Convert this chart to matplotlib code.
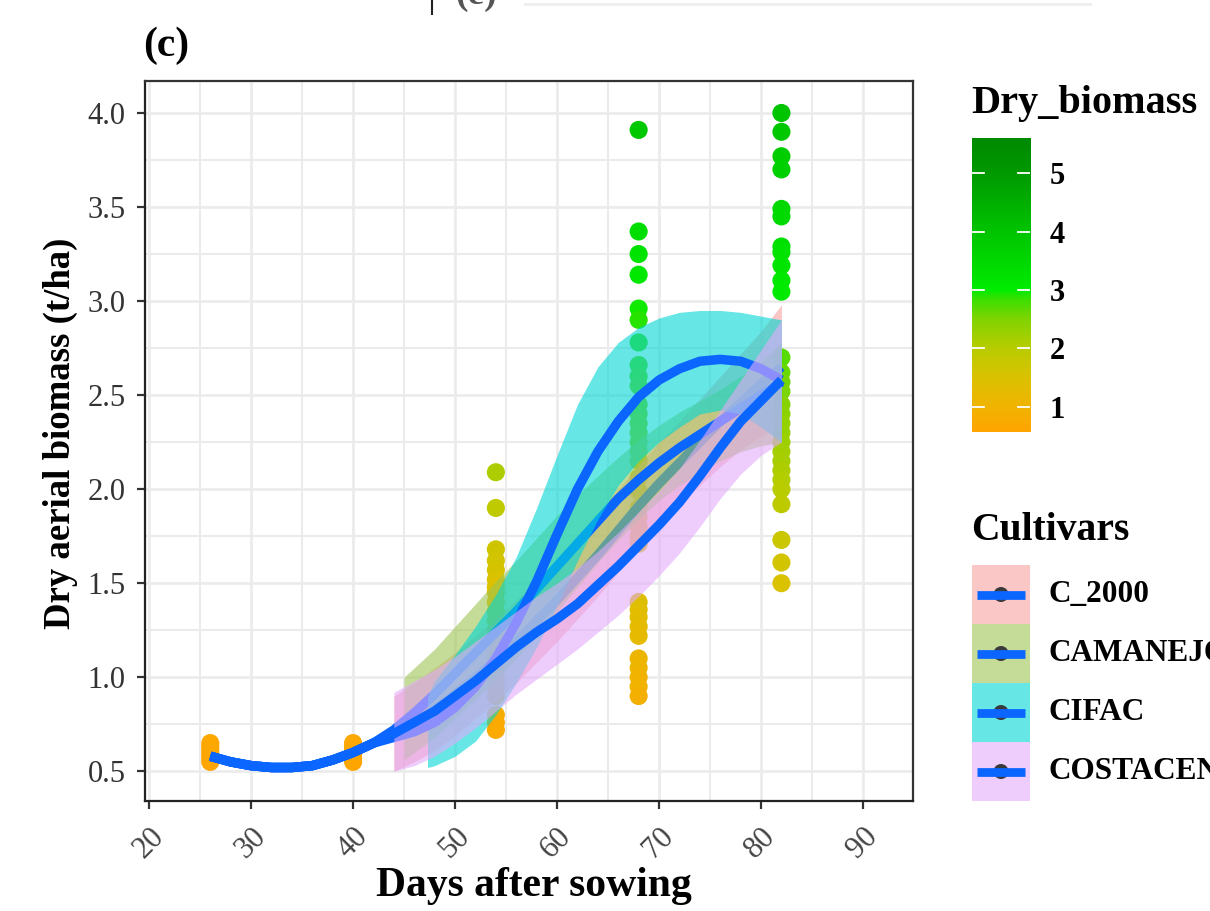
import numpy as np
import matplotlib
matplotlib.use("Agg")
import matplotlib.pyplot as plt
from matplotlib.colors import LinearSegmentedColormap, Normalize
from matplotlib.patches import Rectangle, Circle
from matplotlib.lines import Line2D

plt.rcParams['font.family'] = ['Liberation Serif', 'DejaVu Serif']

# ---------------- data ----------------
sample_days = [26, 40, 54, 68, 82]
biomass_day26 = [0.55, 0.57, 0.59, 0.61, 0.63, 0.65]
biomass_day40 = [0.55, 0.57, 0.59, 0.61, 0.63, 0.65]
biomass_day54 = [2.09, 1.90, 1.68, 1.62, 1.57, 1.52, 1.48, 1.45, 1.40, 1.35, 1.30,
                 1.25, 1.20, 1.15, 1.10, 1.05, 1.00, 0.95, 0.90, 0.80, 0.76, 0.72]
biomass_day68 = [3.91, 3.37, 3.25, 3.14, 2.96, 2.90, 2.78, 2.66, 2.60, 2.55, 2.45,
                 2.40, 2.35, 2.30, 2.25, 2.20, 2.15, 2.06, 1.99, 1.90, 1.85, 1.80,
                 1.75, 1.71, 1.40, 1.36, 1.32, 1.27, 1.22, 1.10, 1.05, 1.00, 0.95, 0.90]
biomass_day82 = [4.00, 3.90, 3.77, 3.70, 3.49, 3.45, 3.29, 3.26, 3.19, 3.11, 3.05,
                 2.70, 2.62, 2.57, 2.52, 2.45, 2.40, 2.35, 2.30, 2.25, 2.20, 2.15,
                 2.10, 2.05, 2.00, 1.92, 1.73, 1.61, 1.50]

cultivars = ['C_2000', 'CAMANEJO', 'CIFAC', 'COSTACEN']

fit_days = list(range(26, 84, 2))
fit_c2000 = [0.58, 0.55, 0.53, 0.52, 0.52, 0.53, 0.56, 0.60, 0.65,
             0.70, 0.76, 0.83, 0.91, 1.00, 1.09, 1.19, 1.30, 1.41, 1.53,
             1.65, 1.78, 1.91, 2.03, 2.14, 2.25, 2.36, 2.46, 2.56, 2.65]
fit_camanejo = [0.58, 0.55, 0.53, 0.52, 0.52, 0.53, 0.56, 0.60, 0.65,
                0.72, 0.81, 0.91, 1.02, 1.13, 1.24, 1.35, 1.47, 1.59, 1.71,
                1.83, 1.95, 2.05, 2.14, 2.22, 2.29, 2.36, 2.43, 2.50, 2.57]
fit_cifac = [0.58, 0.55, 0.53, 0.52, 0.52, 0.53, 0.56, 0.60, 0.65,
             0.68, 0.71, 0.76, 0.84, 0.95, 1.10, 1.29, 1.51, 1.76, 2.00,
             2.20, 2.36, 2.49, 2.58, 2.64, 2.68, 2.69, 2.68, 2.64, 2.58]
fit_costacen = [0.58, 0.55, 0.53, 0.52, 0.52, 0.53, 0.56, 0.60, 0.65,
                0.70, 0.76, 0.82, 0.90, 0.98, 1.07, 1.16, 1.24, 1.31, 1.39,
                1.49, 1.59, 1.70, 1.81, 1.93, 2.07, 2.22, 2.36, 2.47, 2.58]

band_days_c2000 = list(range(44, 84, 2))
band_lo_c2000 = [0.50, 0.55, 0.61, 0.69, 0.78, 0.87, 0.97, 1.08, 1.19, 1.31,
                 1.43, 1.56, 1.69, 1.81, 1.92, 2.02, 2.12, 2.21, 2.28, 2.33]
band_hi_c2000 = [0.90, 0.97, 1.05, 1.13, 1.22, 1.31, 1.41, 1.52, 1.63, 1.75,
                 1.87, 2.00, 2.13, 2.25, 2.36, 2.48, 2.60, 2.72, 2.84, 2.98]

band_days_camanejo = [45] + list(range(46, 84, 2))
band_lo_camanejo = [0.56, 0.60, 0.68, 0.78, 0.88, 0.99, 1.10, 1.22, 1.35, 1.48,
                    1.61, 1.73, 1.84, 1.94, 2.02, 2.09, 2.15, 2.20, 2.23, 2.25]
band_hi_camanejo = [1.00, 1.05, 1.15, 1.27, 1.39, 1.51, 1.62, 1.74, 1.86, 1.97,
                    2.07, 2.17, 2.26, 2.34, 2.41, 2.47, 2.53, 2.60, 2.68, 2.78]

band_days_cifac = [47.3] + list(range(48, 84, 2))
band_lo_cifac = [0.52, 0.53, 0.58, 0.66, 0.80, 0.97, 1.16, 1.38, 1.62, 1.84,
                 2.02, 2.15, 2.25, 2.33, 2.40, 2.42, 2.40, 2.33, 2.25]
band_hi_cifac = [0.90, 0.98, 1.12, 1.27, 1.44, 1.64, 1.90, 2.18, 2.45, 2.65,
                 2.78, 2.86, 2.91, 2.94, 2.95, 2.95, 2.94, 2.92, 2.90]

band_days_costacen = list(range(44, 84, 2))
band_lo_costacen = [0.50, 0.53, 0.58, 0.65, 0.73, 0.82, 0.91, 0.99, 1.07, 1.15,
                    1.24, 1.33, 1.43, 1.54, 1.66, 1.80, 1.95, 2.08, 2.18, 2.25]
band_hi_costacen = [0.92, 0.98, 1.04, 1.11, 1.19, 1.27, 1.35, 1.43, 1.50, 1.58,
                    1.67, 1.77, 1.88, 1.99, 2.11, 2.26, 2.42, 2.58, 2.74, 2.90]

x_ticks = [20, 30, 40, 50, 60, 70, 80, 90]
y_ticks = [0.5, 1.0, 1.5, 2.0, 2.5, 3.0, 3.5, 4.0]
cbar_ticks = [1, 2, 3, 4, 5]

# ---------------- styles ----------------
fill_colors = ['#F7A3A0', '#9EC653', '#00D7D5', '#E3AAFA']
fill_alpha = 0.6
line_color = '#0A66FF'
cmap_nodes = [(0.57, '#FFA500'), (1.0, '#F0B400'), (1.5, '#DAC200'), (2.0, '#B8CC00'),
              (2.5, '#80D400'), (2.85, '#38E000'), (3.0, '#00EC00'), (4.0, '#00C400'),
              (5.0, '#009A00'), (5.6, '#008A00')]
vmin, vmax = 0.57, 5.6
cmap = LinearSegmentedColormap.from_list(
    'bio', [((v - vmin) / (vmax - vmin), c) for v, c in cmap_nodes])
norm = Normalize(vmin=vmin, vmax=vmax)

W, H = 1210, 911
fig = plt.figure(figsize=(W / 100, H / 100), dpi=100)

def fx(px):
    return px / W

def fy(py):
    return 1 - py / H

ax = fig.add_axes([fx(145), fy(801), fx(913) - fx(145), fy(81) - fy(801)])
ax.set_xlim(19.6, 94.9)
ax.set_ylim(0.342, 4.17)

# grid
for v in np.arange(20, 95, 5):
    ax.axvline(v, color='#EBEBEB', lw=1.9 if v % 10 == 0 else 1.5, zorder=0)
for v in np.arange(0.5, 4.01, 0.25):
    ax.axhline(v, color='#EBEBEB', lw=1.9 if abs(v * 2 - round(v * 2)) < 1e-6 else 1.5, zorder=0)

# points
groups = [biomass_day26, biomass_day40, biomass_day54, biomass_day68, biomass_day82]
for d, vals in zip(sample_days, groups):
    ax.scatter([d] * len(vals), vals, c=vals, cmap=cmap, norm=norm, s=170,
               edgecolors='none', zorder=2)

fits = [fit_c2000, fit_camanejo, fit_cifac, fit_costacen]
bands = [(band_days_c2000, band_lo_c2000, band_hi_c2000),
         (band_days_camanejo, band_lo_camanejo, band_hi_camanejo),
         (band_days_cifac, band_lo_cifac, band_hi_cifac),
         (band_days_costacen, band_lo_costacen, band_hi_costacen)]
z = 3
for fit, (bd, lo, hi), col in zip(fits, bands, fill_colors):
    ax.fill_between(bd, lo, hi, color=col, alpha=fill_alpha, lw=0, zorder=z)
    ax.plot(fit_days, fit, color=line_color, lw=6.8, solid_capstyle='butt',
            solid_joinstyle='round', zorder=z + 0.5)
    z += 1

ax.set_xticks(x_ticks)
ax.set_yticks(y_ticks)
ax.set_yticklabels([f'{v:.1f}' for v in y_ticks], fontsize=22, color='#333333')
ax.set_xticklabels([str(v) for v in x_ticks], fontsize=22, color='#444444',
                   rotation=45, ha='right', va='top', rotation_mode='anchor')
ax.tick_params(axis='both', length=6, width=1.6, color='#333333')
ax.tick_params(axis='y', pad=8)
ax.tick_params(axis='x', pad=9)
for s in ax.spines.values():
    s.set_color('#333333')
    s.set_linewidth(1.6)
ax.spines['left'].set_color('#222222')
ax.spines['bottom'].set_color('#222222')

fig.text(fx(60), fy(433), 'Dry aerial biomass (t/ha)', rotation=90, ha='center',
         va='center', fontsize=26.5, fontweight='bold')
fig.text(fx(534), fy(886), 'Days after sowing', ha='center', va='center',
         fontsize=30, fontweight='bold')
fig.text(fx(143), fy(46), '(c)', ha='left', va='center', fontsize=30,
         fontweight='bold')

# remnant of neighbouring panel at top
fig.add_artist(Line2D([fx(432), fx(432)], [fy(0), fy(14)], color='#222222', lw=1.5))
fig.text(fx(455), fy(-6), '(e)', ha='left', va='center', fontsize=27,
         fontweight='bold', color='#555555')
fig.add_artist(Line2D([fx(525), fx(1090)], [fy(4), fy(4)], color='#EEEEEE', lw=2))

# colorbar
cax = fig.add_axes([fx(972), fy(432), fx(1030) - fx(972), fy(138) - fy(432)])
grad = np.linspace(vmin, vmax, 400).reshape(-1, 1)
cax.imshow(grad, cmap=cmap, norm=norm, aspect='auto', origin='lower',
           extent=[0, 1, vmin, vmax])
cax.set_xlim(0, 1)
cax.set_ylim(vmin, vmax)
for t in cbar_ticks:
    cax.plot([0, 0.2], [t, t], color='white', lw=1.3)
    cax.plot([0.8, 1], [t, t], color='white', lw=1.3)
cax.set_xticks([])
cax.yaxis.tick_right()
cax.set_yticks(cbar_ticks)
cax.set_yticklabels([str(t) for t in cbar_ticks], fontsize=22, fontweight='bold')
cax.tick_params(axis='y', length=0, pad=14)
for s in cax.spines.values():
    s.set_visible(False)
fig.text(fx(971), fy(104), 'Dry_biomass', ha='left', va='center', fontsize=29,
         fontweight='bold')

# cultivar legend
fig.text(fx(971), fy(531), 'Cultivars', ha='left', va='center', fontsize=28.5,
         fontweight='bold')
lax = fig.add_axes([0, 0, 1, 1], facecolor='none')
lax.set_xlim(0, W)
lax.set_ylim(H, 0)
lax.axis('off')
key_top = 565
key_h = 59
for i, (name, col) in enumerate(zip(cultivars, fill_colors)):
    y0 = key_top + i * key_h
    lax.add_patch(Rectangle((972, y0), 58, key_h, facecolor=col, alpha=fill_alpha,
                            edgecolor='none'))
    cy = y0 + key_h / 2
    lax.add_patch(Circle((1001, cy), 7.5, facecolor='#3A3A3A', edgecolor='none'))
    lax.plot([977, 1025], [cy, cy], color=line_color, lw=6.3, solid_capstyle='butt')
    lax.text(1048, cy, name, ha='left', va='center', fontsize=22.5, fontweight='bold')

fig.savefig('out.png', dpi=100)
